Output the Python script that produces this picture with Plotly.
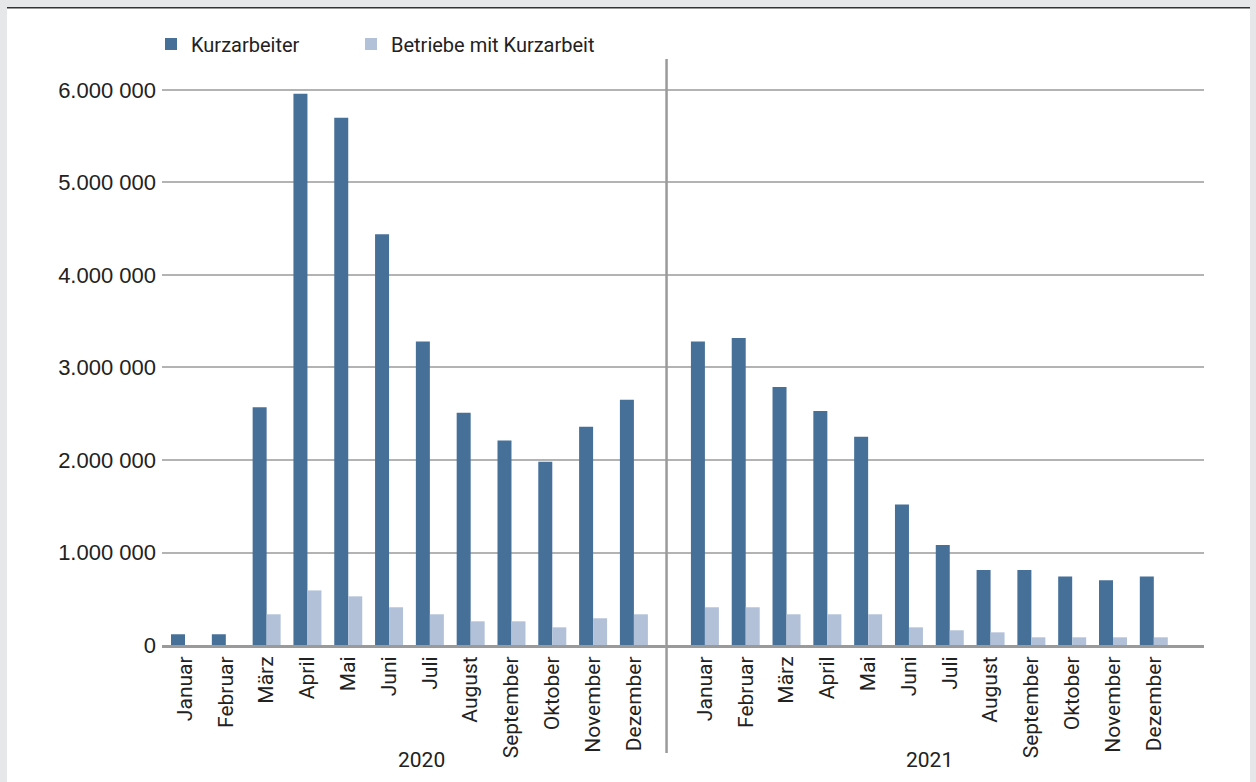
import plotly.graph_objects as go

months = ["Januar", "Februar", "März", "April", "Mai", "Juni", "Juli",
          "August", "September", "Oktober", "November", "Dezember"]
years = ["2020", "2021"]

kurzarbeiter_2020 = [116000, 116000, 2570000, 5960000, 5700000, 4440000,
                     3280000, 2510000, 2210000, 1980000, 2360000, 2650000]
kurzarbeiter_2021 = [3280000, 3320000, 2790000, 2530000, 2250000, 1520000,
                     1080000, 810000, 810000, 740000, 700000, 740000]
betriebe_2020 = [None, None, 332000, 590000, 526000, 408000,
                 332000, 256000, 256000, 191000, 289000, 332000]
betriebe_2021 = [408000, 408000, 332000, 332000, 332000, 191000,
                 159000, 137000, 83000, 83000, 83000, 83000]

y_tickvals = [0, 1000000, 2000000, 3000000, 4000000, 5000000, 6000000]
y_ticktext = ["0", "1.000 000", "2.000 000", "3.000 000", "4.000 000",
              "5.000 000", "6.000 000"]

DARK = "#467098"
LIGHT = "#b2c1d8"
NARROW = "Roboto, Liberation Sans, sans-serif"
REG = "Liberation Sans, Arial, sans-serif"
TXT = "#222222"

# slot positions: 12 months, a gap, 12 months
GAP = 1.74
x_2020 = [i for i in range(len(months))]
x_2021 = [len(months) - 1 + GAP + i for i in range(len(months))]
x_all = x_2020 + x_2021

fig = go.Figure()
fig.add_trace(go.Bar(name="Kurzarbeiter", x=x_all,
                     y=kurzarbeiter_2020 + kurzarbeiter_2021,
                     marker=dict(color=DARK, line=dict(width=0)),
                     legend="legend"))
fig.add_trace(go.Bar(name="Betriebe mit Kurzarbeit", x=x_all,
                     y=betriebe_2020 + betriebe_2021,
                     marker=dict(color=LIGHT, line=dict(width=0)),
                     legend="legend2"))

W, H = 1256, 782
L, R, T, B = 162, 52, 59, 137
pw, ph = W - L - R, H - T - B


def px(xp):
    return (xp - L) / pw


def py(yp):
    return (H - B - yp) / ph


shapes = [
    # grey frame around white panel
    dict(type="rect", xref="paper", yref="paper", x0=px(0), x1=px(7), y0=py(H), y1=py(0),
         fillcolor="#e6e7e9", line=dict(width=0), layer="below"),
    dict(type="rect", xref="paper", yref="paper", x0=px(1250), x1=px(W), y0=py(H), y1=py(0),
         fillcolor="#e6e7e9", line=dict(width=0), layer="below"),
    dict(type="rect", xref="paper", yref="paper", x0=px(0), x1=px(W), y0=py(7), y1=py(0),
         fillcolor="#e6e7e9", line=dict(width=0), layer="below"),
    dict(type="line", xref="paper", yref="paper", x0=px(7), x1=px(1250), y0=py(7.8), y1=py(7.8),
         line=dict(color="#333333", width=1.5)),
    # divider between years
    dict(type="line", xref="x", yref="paper", x0=11.8, x1=11.8, y0=py(753), y1=1,
         line=dict(color="#9a9a9a", width=2.5)),
]

annotations = [
    dict(text=years[0], x=5.8, xref="x", y=py(760), yref="paper", showarrow=False,
         font=dict(family=NARROW, size=21, color=TXT), yanchor="middle"),
    dict(text=years[1], x=x_2021[0] + 5.5, xref="x", y=py(760), yref="paper", showarrow=False,
         font=dict(family=NARROW, size=21, color=TXT), yanchor="middle"),
]

legend_common = dict(orientation="h", xanchor="left", yanchor="middle",
                     font=dict(family=NARROW, size=20, color=TXT),
                     bgcolor="rgba(0,0,0,0)", borderwidth=0)

fig.update_layout(
    width=W, height=H, autosize=False,
    margin=dict(l=L, r=R, t=T, b=B, pad=0),
    paper_bgcolor="white", plot_bgcolor="rgba(0,0,0,0)",
    barmode="group", bargap=0.314, bargroupgap=0,
    shapes=shapes, annotations=annotations,
    legend=dict(x=px(151), y=py(44), **legend_common),
    legend2=dict(x=px(351), y=py(44), **legend_common),
    xaxis=dict(range=[-0.564, 24.97], tickvals=x_all, ticktext=months + months,
               tickangle=-90, showgrid=False, zeroline=False,
               showline=True, linecolor="#9a9a9a", linewidth=3, ticks="",
               tickfont=dict(family=NARROW, size=21, color=TXT)),
    yaxis=dict(range=[0, 6335000], tickvals=y_tickvals, ticktext=y_ticktext,
               showgrid=True, gridcolor="#b3b3b3", gridwidth=2, zeroline=False,
               showline=False, ticks="", ticklabelstandoff=5,
               tickfont=dict(family=REG, size=22, color=TXT)),
    showlegend=True,
)

fig.write_html("out.html", config={"displayModeBar": False},
               post_script="document.body.style.margin='0px';")
